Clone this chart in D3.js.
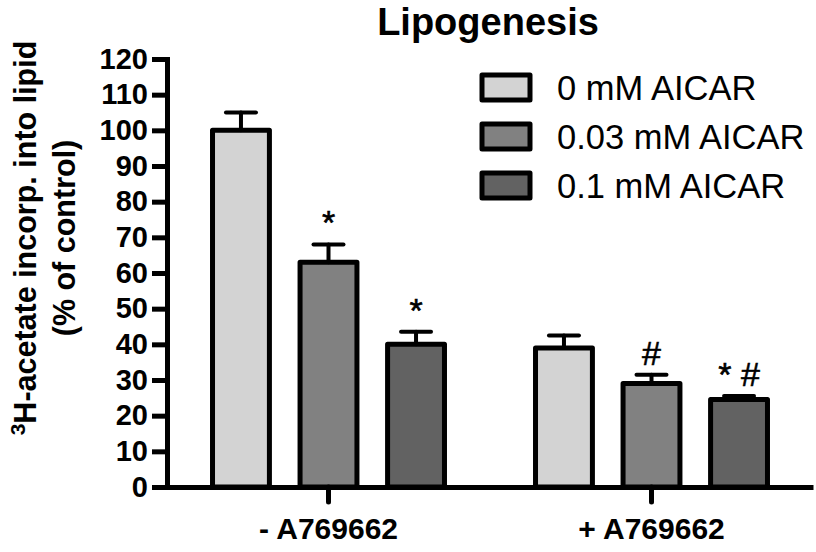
<!DOCTYPE html>
<html>
<head>
<meta charset="utf-8">
<script src="https://cdn.jsdelivr.net/npm/d3@7"></script>
<style>
  body { margin: 0; background: #fff; }
  text { font-family: "Liberation Sans", Arial, sans-serif; }
</style>
</head>
<body>
<div id="chart"></div>
<script>
// data
const groups = ["- A769662", "+ A769662"];
const series = ["0 mM AICAR", "0.03 mM AICAR", "0.1 mM AICAR"];
const means = [[100, 63, 40], [39, 29, 24.5]];
const errors = [[5, 5, 3.5], [3.5, 2.5, 1]];
const marks = [["", "*", "*"], ["", "#", "* #"]];
const yTicks = d3.range(0, 121, 10);
const fills = ["#d3d3d3", "#818181", "#626262"];

const width = 816, height = 552;
const margin = ({ top: 59, right: 3, bottom: 65, left: 167 });

const svg = d3.select("#chart")
    .append("svg")
    .attr("width", width)
    .attr("height", height);

const y = d3.scaleLinear()
    .domain([0, 120])
    .range([height - margin.bottom, margin.top]);

const xg = d3.scaleBand()
    .domain(groups)
    .range([margin.left, width - margin.right])
    .padding(0);

const xs = d3.scaleBand()
    .domain(series)
    .range([0, xg.bandwidth()])
    .paddingInner(0.35)
    .paddingOuter(0.52);

let rows = [];
groups.forEach((g, i) => {
    series.forEach((s, j) => {
        rows.push({ group: g, series: s, j: j, mean: means[i][j], err: errors[i][j], mark: marks[i][j] });
    });
});

const cx = d => xg(d.group) + xs(d.series) + xs.bandwidth() / 2;

// bars
svg.append("g")
    .selectAll("rect")
    .data(rows)
    .join("rect")
    .attr("x", d => xg(d.group) + xs(d.series))
    .attr("y", d => y(d.mean))
    .attr("width", xs.bandwidth())
    .attr("height", d => y(0) - y(d.mean))
    .attr("fill", d => fills[d.j])
    .attr("stroke", "black")
    .attr("stroke-width", 5)
    .attr("stroke-linejoin", "round");

// error bars (upper only)
const eb = svg.append("g")
    .attr("stroke", "black")
    .attr("stroke-width", 4)
    .attr("stroke-linecap", "round");

eb.selectAll(".stem")
    .data(rows)
    .join("line")
    .attr("class", "stem")
    .attr("x1", cx)
    .attr("x2", cx)
    .attr("y1", d => y(d.mean))
    .attr("y2", d => y(d.mean + d.err));

eb.selectAll(".cap")
    .data(rows)
    .join("line")
    .attr("class", "cap")
    .attr("x1", d => cx(d) - 15)
    .attr("x2", d => cx(d) + 15)
    .attr("y1", d => y(d.mean + d.err))
    .attr("y2", d => y(d.mean + d.err));

// significance marks
svg.append("g")
    .selectAll("text")
    .data(rows.filter(d => d.mark))
    .join("text")
    .attr("x", cx)
    .attr("y", d => y(d.mean + d.err) - 10)
    .attr("text-anchor", "middle")
    .attr("font-size", 34)
    .attr("stroke", "black")
    .attr("stroke-width", 0.6)
    .text(d => d.mark);

// y axis
const yAxis = svg.append("g")
    .attr("transform", `translate(${margin.left},0)`)
    .call(d3.axisLeft(y).tickValues(yTicks).tickSize(15).tickSizeOuter(0).tickPadding(4));
yAxis.select(".domain").attr("stroke-width", 5).attr("stroke-linecap", "square");
yAxis.selectAll(".tick line").attr("stroke-width", 5);
yAxis.selectAll(".tick text")
    .attr("font-size", 29)
    .attr("font-weight", "bold")
    .attr("fill", "black")
    .style("font-family", "'Liberation Sans', Arial, sans-serif");

// x axis
const xAxis = svg.append("g")
    .attr("transform", `translate(0,${y(0)})`)
    .call(d3.axisBottom(xg).tickSize(15).tickSizeOuter(0).tickPadding(16));
xAxis.select(".domain").attr("stroke-width", 5);
xAxis.selectAll(".tick line").attr("stroke-width", 5).attr("stroke-linecap", "round");
xAxis.selectAll(".tick text")
    .attr("font-size", 30)
    .attr("font-weight", "bold")
    .attr("fill", "black")
    .style("font-family", "'Liberation Sans', Arial, sans-serif");

// title
svg.append("text")
    .attr("x", 488)
    .attr("y", 35)
    .attr("text-anchor", "middle")
    .attr("font-size", 38)
    .attr("font-weight", "bold")
    .text("Lipogenesis");

// y axis title
const midY = (y(0) + y(120)) / 2 - 35;
const yt = svg.append("text")
    .attr("transform", `translate(36,${midY}) rotate(-90)`)
    .attr("text-anchor", "middle")
    .attr("font-size", 30.5)
    .attr("font-weight", "bold");
yt.append("tspan").attr("font-size", 21).attr("dy", -11).text("3");
yt.append("tspan").attr("dy", 11).text("H-acetate incorp. into lipid");

svg.append("text")
    .attr("transform", `translate(75,${midY}) rotate(-90)`)
    .attr("text-anchor", "middle")
    .attr("font-size", 30.5)
    .attr("font-weight", "bold")
    .text("(% of control)");

// legend
const legend = svg.append("g")
    .selectAll("g")
    .data(series)
    .join("g")
    .attr("transform", (d, i) => `translate(482,${100 + i * 49})`);

legend.append("rect")
    .attr("x", 0)
    .attr("y", -25)
    .attr("width", 48)
    .attr("height", 25)
    .attr("fill", (d, i) => fills[i])
    .attr("stroke", "black")
    .attr("stroke-width", 5)
    .attr("stroke-linejoin", "round");

legend.append("text")
    .attr("x", 75)
    .attr("y", 0)
    .attr("font-size", 34.5)
    .text(d => d);
</script>
</body>
</html>
